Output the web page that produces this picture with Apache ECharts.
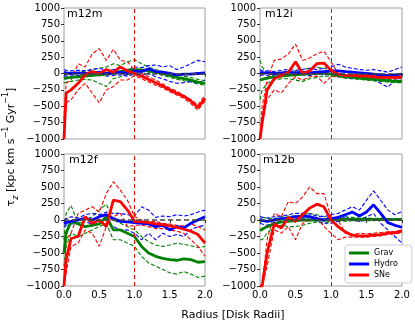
<!DOCTYPE html>
<html>
<head>
<meta charset="utf-8">
<script src="https://cdn.jsdelivr.net/npm/echarts@6/dist/echarts.min.js"></script>
<style>
  html, body { margin: 0; padding: 0; background: #fff; }
  #chart { width: 415px; height: 327px; }
</style>
</head>
<body>
<div id="chart"></div>
<script>
// radius in disk radii
const radius = [0, 0.03, 0.1, 0.2, 0.3, 0.4, 0.5, 0.6, 0.7, 0.8, 0.9, 1.0, 1.1, 1.2, 1.3, 1.4, 1.5, 1.6, 1.7, 1.8, 1.9, 2.0];
const yTicks = [-1000, -750, -500, -250, 0, 250, 500, 750, 1000];
const xTicks = [0, 0.5, 1, 1.5, 2];
const panelNames = ['m12m', 'm12i', 'm12f', 'm12b'];

// m12m
const m12m_grav    = [-80, -70, -60, -50, -40, -30, -20, -10, 10, 30, 50, 60, 55, 45, 20, 0, -30, -60, -80, -100, -130, -150];
const m12m_grav_hi = [-20, -10, 0, 10, 40, 60, 80, 100, 150, 120, 180, 210, 150, 100, 60, 30, 0, -20, -40, -60, -90, -110];
const m12m_grav_lo = [-150, -130, -120, -100, -90, -100, -150, -200, -80, -50, -20, 20, 30, 20, 0, -30, -60, -90, -110, -130, -160, -180];
const m12m_hydro    = [20, 10, 0, 10, 0, 10, 20, 0, 10, 20, 0, 40, 30, 70, 30, 20, 0, -20, -10, -10, 0, 10];
const m12m_hydro_hi = [60, 50, 40, 50, 40, 60, 80, 50, 60, 80, 50, 100, 90, 120, 130, 100, 120, 60, 100, 150, 200, 180];
const m12m_hydro_lo = [-30, -40, -40, -30, -40, -40, -20, -40, -30, -20, -40, -10, -30, 0, -50, -80, -120, -150, -140, -120, -150, -100];
const m12m_sne    = [-1000, -300, -250, -150, -20, 30, 0, 60, 20, 100, 40, 0, -40, -90, -140, -190, -250, -300, -350, -420, -520, -380];
const m12m_sne_hi = [-700, -150, -100, 150, 100, 300, 380, 200, 370, 200, 180, 50, 0, -50, -100, -160, -220, -270, -330, -400, -480, -330];
const m12m_sne_lo = [-1000, -450, -400, -250, -150, -300, -450, -250, -200, -100, -100, -30, -80, -130, -180, -220, -280, -330, -380, -460, -560, -420];

// m12i
const m12i_grav    = [-100, -90, -70, -50, -40, -30, -20, -10, 0, 0, 10, -10, -30, -50, -60, -70, -80, -90, -100, -110, -120, -120];
const m12i_grav_hi = [200, 100, 0, -20, 0, 20, 40, 60, 80, 100, 80, 40, 0, -20, -40, -50, -60, -70, -80, -90, -100, -100];
const m12i_grav_lo = [-400, -250, -150, -100, -80, -80, -100, -120, -80, -60, -40, -40, -50, -70, -80, -90, -100, -110, -120, -130, -140, -140];
const m12i_hydro    = [20, 10, 10, 0, 10, 20, 10, 20, 10, 20, 30, 40, 40, 30, 20, 10, 0, -10, -20, -30, -20, -10];
const m12i_hydro_hi = [60, 40, 40, 30, 50, 60, 50, 60, 80, 60, 80, 100, 140, 100, 80, 60, 50, 60, 40, 20, 60, 100];
const m12i_hydro_lo = [-30, -20, -30, -40, -30, -20, -30, -20, -30, -10, -20, -10, -50, -60, -80, -70, -80, -100, -150, -210, -100, -60];
const m12i_sne    = [-1000, -750, -250, -80, -30, 20, 180, 0, 40, 150, 160, 50, -10, -30, -30, -40, -40, -50, -60, -60, -60, -50];
const m12i_sne_hi = [-1000, -500, -100, 200, 220, 300, 450, 200, 240, 300, 340, 180, 0, -20, -10, -20, -20, -30, -40, -40, -30, -20];
const m12i_sne_lo = [-1000, -800, -400, -250, -300, -150, -50, -100, -50, -40, -150, -50, -40, -60, -60, -70, -70, -80, -80, -80, -80, -70];

// m12f
const m12f_grav    = [-500, -200, -20, -60, -100, -80, -60, 50, -150, -150, -200, -250, -400, -500, -550, -580, -600, -610, -590, -600, -640, -630];
const m12f_grav_hi = [-300, 100, 220, -50, 0, 50, 150, 240, 0, -50, -100, -150, -250, -330, -380, -400, -380, -350, -370, -390, -420, -400];
const m12f_grav_lo = [-700, -400, -200, -250, -200, -150, -100, -50, -300, -300, -350, -400, -550, -650, -700, -750, -800, -820, -780, -820, -870, -850];
const m12f_hydro    = [-50, -40, -20, 0, 30, 0, 50, 80, 20, -20, -30, -40, -50, -60, -100, -80, -150, -100, -120, -50, 0, 50];
const m12f_hydro_hi = [0, 20, 50, 30, 80, 100, 80, 120, 100, 100, 80, 60, 200, 150, 40, 60, 50, 80, 60, 80, 120, 150];
const m12f_hydro_lo = [-100, -80, -60, -50, -30, -60, -20, 0, -100, -150, -150, -200, -300, -200, -300, -200, -250, -220, -250, -150, -100, -80];
const m12f_sne    = [-1000, -600, -280, -250, 50, -50, 0, -100, 300, 280, 150, -20, -30, -40, -60, -70, -90, -110, -140, -170, -220, -350];
const m12f_sne_hi = [-1000, -300, -200, 100, 150, 200, 120, 400, 580, 450, 300, 50, 0, -30, -20, -50, -60, -80, -90, -60, -100, -150];
const m12f_sne_lo = [-1000, -800, -400, -350, -150, -200, -400, -100, 50, 100, -100, -80, -80, -100, -130, -130, -150, -170, -200, -300, -400, -550];

// m12b
const m12b_grav    = [-160, -140, -100, -60, -30, -20, -10, 0, 0, 0, 0, 0, 10, 10, 10, 10, 10, 10, 10, 10, 10, 10];
const m12b_grav_hi = [-50, 40, 30, 20, 50, 60, 60, 80, 100, 80, 50, 30, 40, 50, 40, 30, 40, 20, 30, 20, 20, 20];
const m12b_grav_lo = [-300, -300, -200, -100, -80, -100, -100, -80, -50, -30, -50, -20, -20, -20, -10, -20, -10, -10, 0, -10, 0, 0];
const m12b_hydro    = [20, -10, -20, 0, 20, 30, 50, 60, 50, 20, 0, 20, 40, 80, 120, 60, 120, 230, 100, -40, -80, -110];
const m12b_hydro_hi = [60, 40, 30, 50, 60, 80, 100, 100, 90, 60, 50, 80, 100, 150, 200, 150, 300, 440, 300, 150, 80, 130];
const m12b_hydro_lo = [-50, -60, -80, -40, -20, 0, 20, 20, 10, -20, -50, -50, -20, 50, 0, -20, 50, 100, -50, -150, -250, -350];
const m12b_sne    = [-1000, -1000, -500, -60, -120, 40, -20, 80, 180, 240, 200, 0, -100, -180, -230, -240, -240, -230, -220, -200, -190, -170];
const m12b_sne_hi = [-1000, -1000, -300, 100, 50, 280, 250, 350, 500, 400, 400, 50, 0, -200, -220, -200, -210, -200, -190, -180, -170, -150];
const m12b_sne_lo = [-1000, -1000, -700, -150, -200, -100, -300, -50, 0, 50, -100, -200, -300, -260, -260, -260, -260, -250, -240, -220, -210, -190];

const panelData = [
  [[m12m_grav, m12m_grav_hi, m12m_grav_lo], [m12m_hydro, m12m_hydro_hi, m12m_hydro_lo], [m12m_sne, m12m_sne_hi, m12m_sne_lo]],
  [[m12i_grav, m12i_grav_hi, m12i_grav_lo], [m12i_hydro, m12i_hydro_hi, m12i_hydro_lo], [m12i_sne, m12i_sne_hi, m12i_sne_lo]],
  [[m12f_grav, m12f_grav_hi, m12f_grav_lo], [m12f_hydro, m12f_hydro_hi, m12f_hydro_lo], [m12f_sne, m12f_sne_hi, m12f_sne_lo]],
  [[m12b_grav, m12b_grav_hi, m12b_grav_lo], [m12b_hydro, m12b_hydro_hi, m12b_hydro_lo], [m12b_sne, m12b_sne_hi, m12b_sne_lo]]
];
const compNames = ['Grav', 'Hydro', 'SNe'];
const compColors = ['#008000', '#0000ff', '#ff0000'];

const FONT = 'DejaVu Sans';
const grids = [
  {left: 64, top: 8, width: 141, height: 131},
  {left: 260, top: 8, width: 142, height: 131},
  {left: 64, top: 154, width: 141, height: 132},
  {left: 260, top: 154, width: 142, height: 132}
];

function pairs(ys) {
  return radius.map((r, i) => [r, ys[i]]);
}

let xAxes = [], yAxes = [], series = [];
grids.forEach((g, p) => {
  xAxes.push({
    type: 'value', gridIndex: p, min: 0, max: 2, interval: 0.5,
    axisLine: {show: false},
    axisTick: {show: true, length: 3, lineStyle: {color: '#333'}},
    splitLine: {show: false},
    axisLabel: {
      show: p >= 2, fontFamily: FONT, fontSize: 10, color: '#000', margin: 4,
      formatter: v => v.toFixed(1)
    }
  });
  yAxes.push({
    type: 'value', gridIndex: p, min: -1000, max: 1000, interval: 250,
    axisLine: {show: false},
    axisTick: {show: true, length: 3, lineStyle: {color: '#333'}},
    splitLine: {show: false},
    axisLabel: {
      fontFamily: FONT, fontSize: 10, color: '#000', margin: 4,
      formatter: v => (v < 0 ? '\u2212' + Math.abs(v) : String(v))
    }
  });
  // reference lines
  series.push({
    type: 'line', xAxisIndex: p, yAxisIndex: p, data: [], silent: true,
    markLine: {
      silent: true, symbol: 'none', label: {show: false}, animation: false,
      data: [
        {yAxis: 0, lineStyle: {color: '#444', type: [5, 3], width: 1.5}},
        {xAxis: 1, lineStyle: {color: '#ff0000', type: [4, 3], width: 1}}
      ]
    }
  });
  panelData[p].forEach((comp, c) => {
    [comp[1], comp[2]].forEach((arr, k) => {
      series.push({
        name: compNames[c] + (k ? ' lo' : ' hi'),
        type: 'line', xAxisIndex: p, yAxisIndex: p, data: pairs(arr),
        showSymbol: false, symbol: 'none', silent: true,
        lineStyle: {color: compColors[c], width: 1.1, type: [4, 2]},
        itemStyle: {color: compColors[c]}
      });
    });
  });
  panelData[p].forEach((comp, c) => {
    series.push({
      name: compNames[c],
      type: 'line', xAxisIndex: p, yAxisIndex: p, data: pairs(comp[0]),
      showSymbol: false, symbol: 'none', silent: true,
      lineStyle: {color: compColors[c], width: 2.8},
      itemStyle: {color: compColors[c]}
    });
  });
});

const panelLabelPos = [[67, 9], [265, 9], [69, 155], [263, 155]];
let graphic = panelNames.map((n, i) => ({
  type: 'text', x: panelLabelPos[i][0], y: panelLabelPos[i][1],
  style: {text: n, font: '11px "DejaVu Sans"', fill: '#000'}
}));
graphic.push({
  type: 'text', x: 233, y: 315,
  style: {text: 'Radius [Disk Radii]', font: '11px "DejaVu Sans"', fill: '#000', align: 'center', verticalAlign: 'middle'}
});
graphic.push({
  type: 'text', x: 11, y: 147, rotation: Math.PI / 2,
  style: {
    text: '{t|\u03c4}{sub|z}{t| [kpc km s}{sup|\u22121}{t| Gyr}{sup|\u22121}{t|]}',
    align: 'center', verticalAlign: 'middle', fill: '#000',
    rich: {
      t: {fontFamily: FONT, fontSize: 11, lineHeight: 18, verticalAlign: 'middle'},
      sub: {fontFamily: FONT, fontSize: 8, fontStyle: 'italic', lineHeight: 18, verticalAlign: 'bottom'},
      sup: {fontFamily: FONT, fontSize: 8, lineHeight: 18, verticalAlign: 'top'}
    }
  }
});

const chart = echarts.init(document.getElementById('chart'), null, {renderer: 'canvas'});
chart.setOption({
  animation: false,
  backgroundColor: '#fff',
  grid: grids.map(g => Object.assign({show: true, borderColor: '#a0a0a0', borderWidth: 1, containLabel: false}, g)),
  xAxis: xAxes,
  yAxis: yAxes,
  legend: {
    data: compNames, left: 345, top: 245, orient: 'vertical',
    icon: 'rect', itemWidth: 20, itemHeight: 3, itemGap: 3,
    padding: [4, 14, 4, 4],
    backgroundColor: '#fff', borderColor: '#ccc', borderWidth: 1, borderRadius: 3,
    textStyle: {fontFamily: FONT, fontSize: 8, color: '#000'},
    selectedMode: false
  },
  graphic: graphic,
  series: series
});
</script>
</body>
</html>
